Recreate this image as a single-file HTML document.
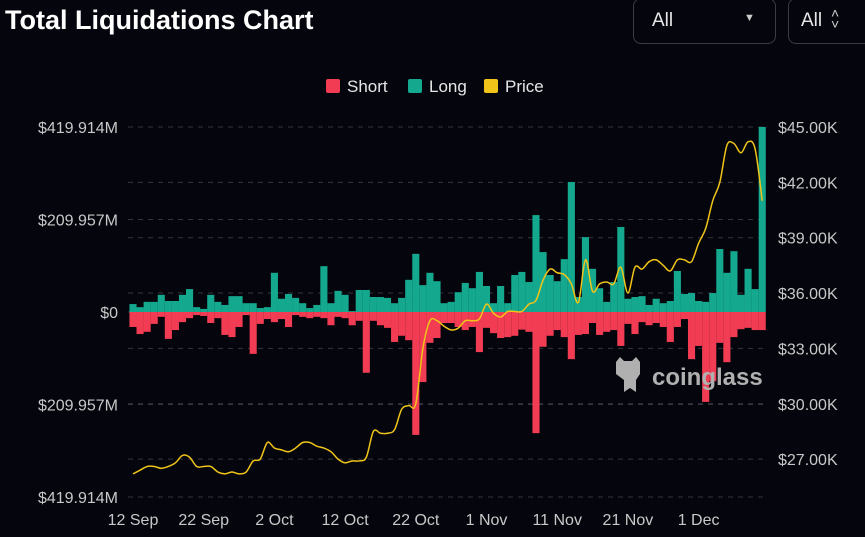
<!DOCTYPE html>
<html><head><meta charset="utf-8"><style>
html,body{margin:0;padding:0;background:#05060d;width:865px;height:537px;overflow:hidden;font-family:"Liberation Sans",sans-serif;}
.title{position:absolute;left:5px;top:5px;color:#fff;font-weight:bold;font-size:27px;letter-spacing:0px}
.dd{position:absolute;top:-2px;height:46px;border:1px solid #3a3c44;border-radius:8px;box-sizing:border-box;color:#e6e6e6;font-size:19px}
</style></head><body>
<div class="title">Total Liquidations Chart</div>
<div class="dd" style="left:633px;width:143px"><span style="position:absolute;left:18px;top:11px">All</span><span style="position:absolute;left:110px;top:13px;font-size:11px;color:#ccc">▼</span></div>
<div class="dd" style="left:788px;width:90px"><span style="position:absolute;left:12px;top:11px">All</span><span style="position:absolute;left:42px;top:9px;font-size:14px;color:#ccc;line-height:11px">˄<br>˅</span></div>
<svg id="chart" width="865" height="537" style="position:absolute;left:0;top:0"></svg>
<script>
const longs=[18,11,23,23,39,25,25,39,52,11,7,39,23,16,36,36,20,20,9,11,89,30,41,32,20,9,16,104,20,48,
39,2,50,50,34,34,32,20,32,73,132,61,89,70,20,23,45,66,54,91,59,20,59,20,84,91,68,220,136,
84,70,120,295,34,170,98,54,23,68,193,30,34,36,16,30,20,25,93,41,43,25,23,43,143,89,138,39,98,52,420];
const shorts=[34,50,45,27,11,61,41,23,14,7,9,25,14,52,57,34,7,95,27,16,23,16,34,7,11,14,11,14,30,11,
14,30,20,138,20,30,36,68,54,64,279,159,70,59,25,25,34,41,34,91,36,48,59,57,54,40,45,275,79,
54,41,57,107,52,50,25,52,45,41,77,27,50,23,30,25,34,68,34,16,107,77,204,157,70,114,57,39,36,41,41];
const price=[26.2,26.4,26.6,26.6,26.5,26.6,26.8,27.2,27.1,26.6,26.6,26.6,26.3,26.2,26.3,26.2,26.3,26.9,27.0,
27.9,27.6,27.5,27.4,27.6,27.9,27.9,27.7,27.6,27.4,27.0,26.8,26.9,26.9,27.1,28.5,28.4,28.4,28.6,29.7,29.9,30.0,33.0,34.5,34.5,34.2,34.0,34.1,34.5,34.5,34.6,
35.4,34.9,34.7,35.0,35.0,35.0,35.4,35.6,36.7,37.3,37.1,37.0,36.5,35.5,37.8,36.1,36.5,36.6,36.5,37.4,36.0,37.4,37.3,37.7,37.8,37.5,37.2,37.8,37.8,37.7,
38.7,39.5,41.0,42.0,44.0,44.1,43.6,44.2,43.8,41.0];
const leftTicks=[419.914,209.957,0,-209.957,-419.914];
const leftLabels=["$419.914M","$209.957M","$0","$209.957M","$419.914M"];
const rightTicks=[45,42,39,36,33,30,27];
const xLabels=["12 Sep","22 Sep","2 Oct","12 Oct","22 Oct","1 Nov","11 Nov","21 Nov","1 Dec"];
const xLabelIdx=[0,10,20,30,40,50,60,70,80];

const svg=document.getElementById('chart');const NS='http://www.w3.org/2000/svg';
function mk(t,a){const e=document.createElementNS(NS,t);for(const k in a)e.setAttribute(k,a[k]);svg.appendChild(e);return e;}
const x0=133,dx=7.07,bw=7.1;
const xs=i=>x0+i*dx;
const yL=v=>312-v*(185/419.914);
const yR=p=>127+(45-p)*18.45;
leftTicks.forEach((t,i)=>{const g=mk('line',{x1:128,x2:766,y1:yL(t),y2:yL(t),stroke:'#34363d','stroke-dasharray':'5,5','stroke-width':1});

const l=mk('text',{x:118,y:yL(t)+6,fill:'#c8c8c8','font-size':16,'text-anchor':'end'});l.textContent=leftLabels[i];
});
rightTicks.forEach(t=>{const g=mk('line',{x1:128,x2:766,y1:yR(t),y2:yR(t),stroke:'#34363d','stroke-dasharray':'5,5','stroke-width':1});

const l=mk('text',{x:778,y:yR(t)+6,fill:'#c8c8c8','font-size':16});l.textContent='$'+t.toFixed(2)+'K';
});
xLabels.forEach((s,i)=>{const l=mk('text',{x:xs(xLabelIdx[i]),y:525,fill:'#c8c8c8','font-size':16,'text-anchor':'middle'});l.textContent=s;
});
longs.forEach((v,i)=>{const r=mk('rect',{x:xs(i)-bw/2,y:yL(v),width:bw,height:312-yL(v),fill:'#14a98f'});
});
shorts.forEach((v,i)=>{const r=mk('rect',{x:xs(i)-bw/2,y:312,width:bw,height:yL(-v)-312,fill:'#f23c53'});
});
const wm=mk('text',{x:652,y:385,fill:'#b0b0b0','font-size':24,'font-weight':'bold'});wm.textContent='coinglass';

const wi=mk('path',{d:'M616,362 L620,357 L624,361 L632,361 L636,357 L640,362 L640,374 L636,380 L636,392 L630,388 L624,392 L624,380 L616,374 Z',fill:'#b0b0b0'});

const pts=price.map((p,i)=>[xs(i),yR(p)]);
let d='M'+pts[0][0]+','+pts[0][1];
for(let i=0;i<pts.length-1;i++){const p0=pts[i-1]||pts[i],p1=pts[i],p2=pts[i+1],p3=pts[i+2]||p2;
d+=' C'+(p1[0]+(p2[0]-p0[0])/6)+','+(p1[1]+(p2[1]-p0[1])/6)+' '+(p2[0]-(p3[0]-p1[0])/6)+','+(p2[1]-(p3[1]-p1[1])/6)+' '+p2[0]+','+p2[1];}
const pl=mk('path',{d:d,fill:'none',stroke:'#f0c419','stroke-width':1.5});

[['Short','#f23c53',326],['Long','#14a98f',408],['Price','#f0c419',484]].forEach(([n,c,x])=>{
const r=mk('rect',{x:x,y:79,width:14,height:14,fill:c,rx:2});
const t=mk('text',{x:x+21,y:92,fill:'#e6e6e6','font-size':17});t.textContent=n;});
</script>
</body></html>
